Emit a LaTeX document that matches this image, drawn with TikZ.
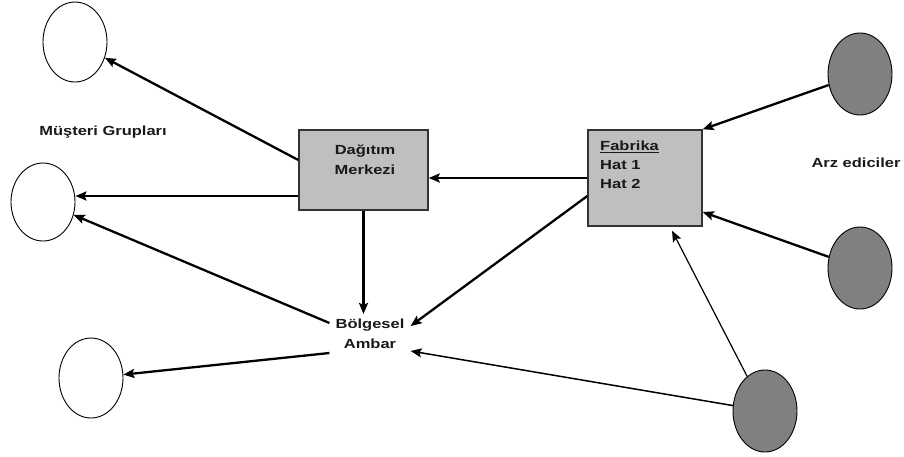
\documentclass[tikz,border=0pt]{standalone}
\usepackage{fontspec}
\setmainfont{Liberation Sans}[FakeStretch=1.25]
\usetikzlibrary{arrows.meta,shapes.geometric}
\tikzset{
  lbl/.style={font=\fontsize{13.2}{20}\selectfont\bfseries, text=black!90, align=center, inner sep=0pt},
  boxnode/.style={draw=black!80, line width=1.4pt, fill=black!25, rectangle},
  custnode/.style={draw=black, line width=0.9pt, fill=white, ellipse, minimum width=64pt, minimum height=80pt, inner sep=0pt},
  supnode/.style={draw=black, line width=0.9pt, fill=black!50, ellipse, minimum width=64pt, minimum height=82pt, inner sep=0pt},
  flow/.style={line width=2.3pt, -{Stealth[length=11pt,width=9pt,inset=2pt]}},
  thinflow/.style={line width=1.2pt, -{Stealth[length=11pt,width=9pt,inset=2pt]}},
}
\begin{document}
\begin{tikzpicture}[x=1pt,y=-1pt]
\useasboundingbox (0,0) rectangle (904,456);

\node[custnode] (c1) at (75,42) {};
\node[custnode, minimum height=78pt] (c2) at (43,202) {};
\node[custnode] (c3) at (91,378) {};
\node[supnode] (g1) at (860,74) {};
\node[supnode] (g2) at (860,268) {};
\node[supnode] (g3) at (765,411) {};

\node[boxnode, minimum width=129pt, minimum height=80pt] (dm) at (363.5,170) {};
\node[lbl] (dmtxt) at (365,160) {Dağıtım\\Merkezi};
\node[boxnode, minimum width=114pt, minimum height=96pt] (fab) at (645,178) {};
\node[lbl, align=left, anchor=north west, font=\fontsize{13.2}{19}\selectfont\bfseries] (fabtxt) at (600,141) {\underline{Fabrika}\\Hat 1\\Hat 2};

\node[lbl, inner xsep=6pt, inner ysep=5pt] (ba) at (370,334) {Bölgesel\\Ambar};
\node[lbl] (mg) at (103,132) {Müşteri Grupları};
\node[lbl] (ae) at (856,163) {Arz ediciler};

\draw[flow] ([yshift=10pt]dm.west) -- (c1);
\draw[flow] ([yshift=-26pt]dm.west) -- ([yshift=-26pt]dm.west -| c2.east);
\draw[flow] ([yshift=11pt]ba.west) -- (c2);
\draw[flow] ([yshift=-19pt]ba.west) -- (c3);
\draw[flow] (dm.south) -- (dm.south |- ba.north);
\draw[flow] (fab.west) -- (fab.west -| dm.east);
\draw[flow] ([yshift=-18pt]fab.west) -- ([yshift=8pt]ba.east);
\draw[flow] (g1) -- (fab.north east);
\draw[flow] (g2) -- ([yshift=-34pt]fab.east);
\draw[thinflow] (g3) -- ([xshift=27pt,yshift=-4pt]fab.south);
\draw[thinflow, line width=1.5pt] (g3) -- ([yshift=-17pt]ba.east);
\end{tikzpicture}
\end{document}
